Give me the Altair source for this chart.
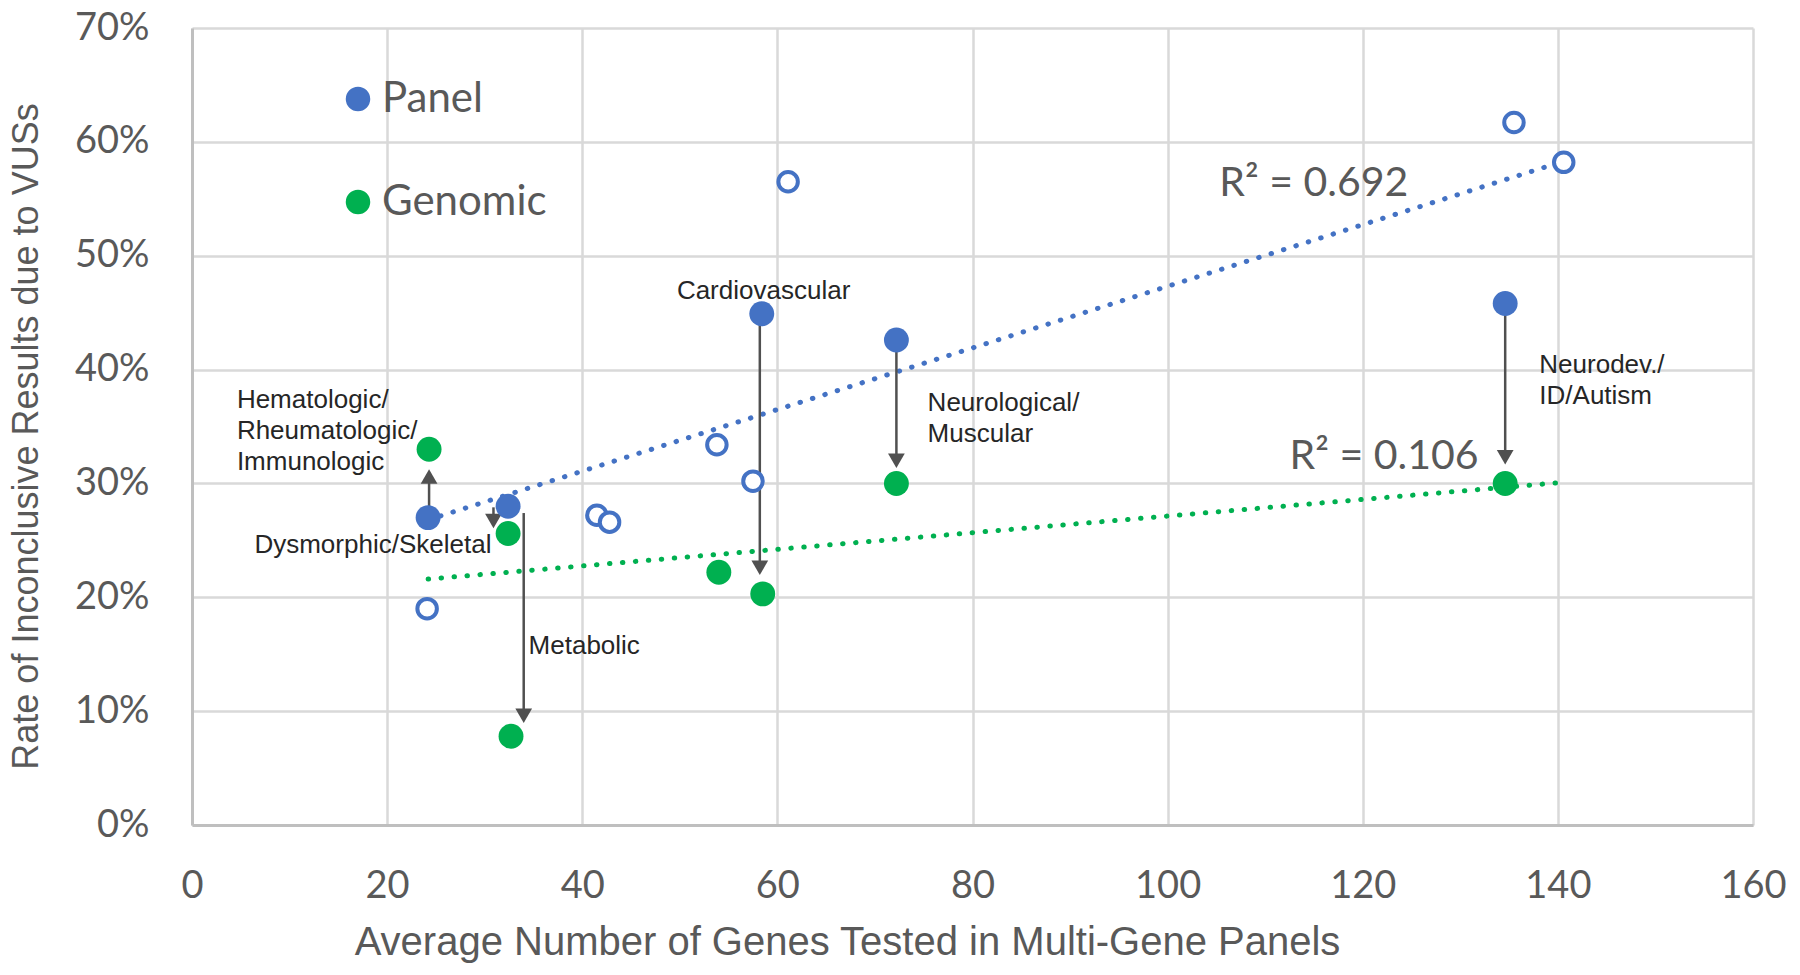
import altair as alt
import pandas as pd

# filled markers: one per disease category, panel rate (blue) and genomic rate (green)
panel_x = [24.2, 32.4, 58.4, 72.2, 134.6]
panel_y = [27.0, 28.0, 44.9, 42.6, 45.8]
genomic_x = [24.3, 32.4, 32.7, 54.0, 58.5, 72.2, 134.6]
genomic_y = [33.0, 25.6, 7.8, 22.2, 20.3, 30.0, 30.0]

# open markers: the other panel categories
open_x = [24.1, 41.5, 42.8, 53.8, 57.5, 61.1, 135.5, 140.6]
open_y = [19.0, 27.2, 26.6, 33.4, 30.2, 56.5, 61.7, 58.2]

# dotted linear fits
fit_x = [24.2, 140.6]
panel_fit_y = [26.8, 58.3]
genomic_fit_y = [21.6, 30.1]
r2_text = ["R\u00b2 = 0.692", "R\u00b2 = 0.106"]
r2_x = [105.3, 112.5]
r2_y = [56.3, 32.3]

# arrows from panel rate to genomic rate
arrow_x = [24.3, 30.9, 34.0, 58.2, 72.2, 134.6]
arrow_from = [27.5, 27.9, 27.4, 44.5, 41.7, 45.5]
arrow_head = [30.6, 26.7, 9.6, 22.6, 32.0, 32.3]
arrow_dir = ["up", "down", "down", "down", "down", "down"]

# category labels (left edge, first line)
label_text = [
    "Hematologic/\nRheumatologic/\nImmunologic",
    "Dysmorphic/Skeletal",
    "Metabolic",
    "Cardiovascular",
    "Neurological/\nMuscular",
    "Neurodev./\nID/Autism",
]
label_x = [4.6, 6.4, 34.5, 49.7, 75.4, 138.1]
label_y = [37.3, 24.6, 15.7, 46.9, 37.1, 40.4]

x_ticks = list(range(0, 161, 20))
y_ticks = list(range(0, 71, 10))

BLUE = "#4472C4"
GREEN = "#00B050"
GREY_TEXT = "#595959"
ARROW = "#505050"

x_axis = alt.Axis(
    values=x_ticks, title="Average Number of Genes Tested in Multi-Gene Panels",
    labelFont="Lato", labelFontSize=38, labelColor=GREY_TEXT, labelPadding=42,
    labelFlush=False, ticks=False, tickSize=0,
    titleFont="Liberation Sans", titleFontSize=40, titleFontWeight="normal",
    titleColor=GREY_TEXT, titleX=655, titleY=117, titleAlign="center",
    titleBaseline="middle",
    domainColor="#bfbfbf", domainWidth=3, gridColor="#d9d9d9", gridWidth=2.5,
)
y_axis = alt.Axis(
    values=y_ticks, title="Rate of Inconclusive Results due to VUSs",
    labelExpr="datum.value + '%'",
    labelFont="Lato", labelFontSize=38, labelColor=GREY_TEXT, labelPadding=43,
    labelFlush=False, ticks=False, tickSize=0,
    titleFont="Liberation Sans", titleFontSize=36, titleFontWeight="normal",
    titleColor=GREY_TEXT, titleX=-166, titleY=408, titleAngle=-90,
    titleAlign="center", titleBaseline="middle",
    domainColor="#bfbfbf", domainWidth=3, gridColor="#d9d9d9", gridWidth=2.5,
)


def xq(field="x"):
    return alt.X(f"{field}:Q", scale=alt.Scale(domain=[0, 160], nice=False), axis=x_axis)


def yq(field="y"):
    return alt.Y(f"{field}:Q", scale=alt.Scale(domain=[0, 70], nice=False), axis=y_axis)


filled = pd.DataFrame({
    "x": panel_x + genomic_x,
    "y": panel_y + genomic_y,
    "group": ["Panel"] * len(panel_x) + ["Genomic"] * len(genomic_x),
})
hollow = pd.DataFrame({"x": open_x, "y": open_y})
fits = pd.DataFrame({
    "x": fit_x + fit_x,
    "y": panel_fit_y + genomic_fit_y,
    "fit": ["Panel"] * 2 + ["Genomic"] * 2,
})
arrows = pd.DataFrame({"x": arrow_x, "y": arrow_from, "y2": arrow_head, "dir": arrow_dir})
labels = pd.DataFrame({"x": label_x, "y": label_y, "text": label_text})
r2 = pd.DataFrame({"x": r2_x, "y": r2_y, "text": r2_text})

fit_lines = (
    alt.Chart(fits)
    .mark_line(strokeDash=[0.5, 12.5], strokeCap="round", strokeWidth=5)
    .encode(
        x=xq(), y=yq(),
        detail="fit:N",
        color=alt.Color("fit:N", scale=alt.Scale(domain=["Panel", "Genomic"], range=[BLUE, GREEN]),
                        legend=None),
    )
)

stems = (
    alt.Chart(arrows)
    .mark_rule(color=ARROW, strokeWidth=2.5)
    .encode(x=xq(), y=yq(), y2="y2:Q")
)

heads = (
    alt.Chart(arrows)
    .mark_point(filled=True, size=280, color=ARROW, opacity=1)
    .encode(
        x=xq(), y=yq("y2"),
        shape=alt.Shape("dir:N", scale=alt.Scale(domain=["up", "down"],
                                                  range=["triangle-up", "triangle-down"]),
                        legend=None),
    )
)

open_pts = (
    alt.Chart(hollow)
    .mark_point(shape="circle", size=380, stroke=BLUE, strokeWidth=4, fill="white",
                filled=False, opacity=1)
    .encode(x=xq(), y=yq())
)

dots = (
    alt.Chart(filled)
    .mark_circle(size=620, opacity=1)
    .encode(
        x=xq(), y=yq(),
        color=alt.Color(
            "group:N",
            scale=alt.Scale(domain=["Panel", "Genomic"], range=[BLUE, GREEN]),
            legend=alt.Legend(
                title=None, orient="none", legendX=145, legendY=50, padding=0,
                labelFont="Lato", labelFontSize=42, labelColor=GREY_TEXT,
                labelOffset=3, labelLimit=400, symbolSize=600, symbolType="circle",
                symbolStrokeWidth=0, symbolOpacity=1, rowPadding=61,
            ),
        ),
        order=alt.Order("group:N", sort="descending"),
    )
)

cat_text = (
    alt.Chart(labels)
    .mark_text(align="left", baseline="middle", font="Liberation Sans", fontSize=26,
               color="#262626", lineBreak="\n", lineHeight=31)
    .encode(x=xq(), y=yq(), text="text:N")
)

r2_labels = (
    alt.Chart(r2)
    .mark_text(align="left", baseline="middle", font="Lato", fontSize=41, color=GREY_TEXT)
    .encode(x=xq(), y=yq(), text="text:N")
)

chart = (
    alt.layer(fit_lines, stems, heads, open_pts, dots, cat_text, r2_labels)
    .resolve_scale(color="independent")
    .properties(
        width=1561,
        height=797,
        autosize=alt.AutoSizeParams(type="none"),
        padding={"left": 184, "top": 20, "right": 39, "bottom": 142},
        background="white",
    )
    .configure_view(strokeWidth=0)
)

chart.save("out.html", embed_options={"renderer": "svg", "actions": False})
